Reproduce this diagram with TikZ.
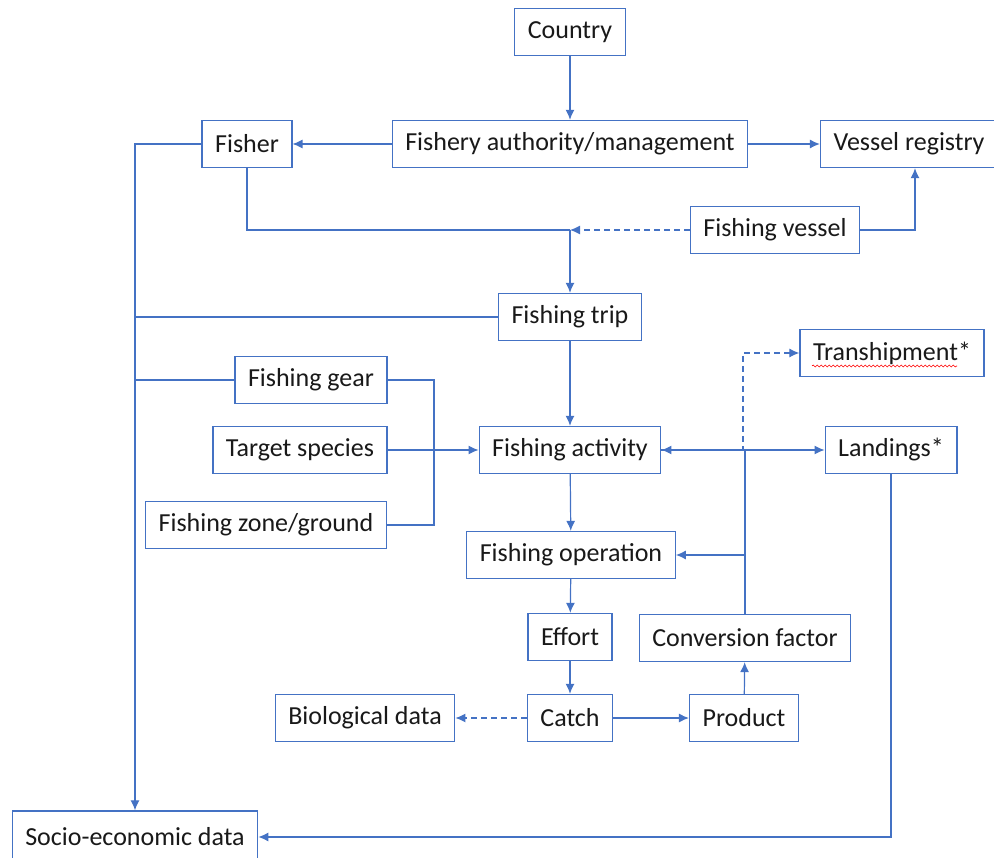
\documentclass[tikz,border=0pt]{standalone}
\usepackage{fontspec}
\setmainfont{Carlito}
\usepackage{xcolor}
\usetikzlibrary{arrows.meta, decorations.pathmorphing}
\definecolor{offblue}{HTML}{4472C4}

\begin{document}
\begin{tikzpicture}[x=1pt, y=-1pt,
        box/.style={draw=offblue, line width=1.3pt, fill=white, inner xsep=13pt, inner ysep=0pt,
            minimum height=47pt, font=\fontsize{26}{30}\selectfont, text=black!90},
        link/.style={draw=offblue, line width=1.2pt},
        dashlink/.style={link, dash pattern=on 6pt off 4pt},
        >={Latex[length=10pt, width=9pt]}]
        \useasboundingbox (0, 0) rectangle (994, 858);

        \node[box] (country) at (570, 32) {Country};
        \node[box] (auth) at (570, 144) {Fishery authority/management};
        \node[box] (fisher) at (247, 144) {Fisher};
        \node[box] (registry) at (909, 144) {Vessel registry};
        \node[box] (vessel) at (775, 230) {Fishing vessel};
        \node[box] (trip) at (570, 317) {Fishing trip};
        \node[box] (gear) at (311, 380) {Fishing gear};
        \node[box] (target) at (300, 450) {Target species};
        \node[box] (zone) at (266, 525) {Fishing zone/ground};
        \node[box] (activity) at (570, 450) {Fishing activity};
        \node[box] (tran) at (892, 353) {Transhipment*};
        \node[box] (landings) at (891, 450) {Landings*};
        \node[box] (operation) at (571, 555) {Fishing operation};
        \node[box] (effort) at (570, 637) {Effort};
        \node[box] (conv) at (745, 638) {Conversion factor};
        \node[box] (bio) at (365, 718) {Biological data};
        \node[box] (catch) at (570, 718) {Catch};
        \node[box] (product) at (744, 718) {Product};
        \node[box, minimum height=52pt] (socio) at (135, 837) {Socio-economic data};

        \coordinate (jn) at (570, 230);
        \coordinate (mg) at (434, 450);
        \coordinate (tj) at (743, 450);

        \draw[red, line width=0.6pt, decorate, decoration={snake, amplitude=1pt, segment length=4pt}] (812, 366) -- (957, 366);

        \draw[link, ->] (country) to (auth);
        \draw[link, ->] (auth) to (fisher);
        \draw[link, ->] (auth) to (registry);
        \draw[link, ->] (vessel.east) -| ([xshift=6pt]registry.south);
        \draw[dashlink, ->] (vessel) to (jn);
        \draw[link] (fisher.south) |- (jn);
        \draw[link, ->] (jn) to (trip);
        \draw[link, ->] (fisher.west) -| (socio.north);
        \draw[link] (trip.west) -- (trip.west -| socio.north);
        \draw[link] (gear.west) -- (gear.west -| socio.north);
        \draw[link] (gear.east) -| (mg);
        \draw[link] (zone.east) -| (mg);
        \draw[link, ->] (target) to (activity);
        \draw[link, ->] (trip) to (activity);
        \draw[link, ->] (activity) to (landings);
        \draw[dashlink, ->] (activity.east) -- (tj) |- (tran.west);
        \draw[link, ->] (conv.north) |- (activity.east);
        \draw[link, ->] (conv.north) |- (operation.east);
        \draw[link, ->] (activity) to (operation);
        \draw[link, ->] (operation) to (effort);
        \draw[link, ->] (effort) to (catch);
        \draw[link, ->] (catch) to (product);
        \draw[dashlink, ->] (catch) to (bio);
        \draw[link, ->] (product) to (conv);
        \draw[link, ->] (landings.south) |- (socio.east);
    \end{tikzpicture}
\end{document}
